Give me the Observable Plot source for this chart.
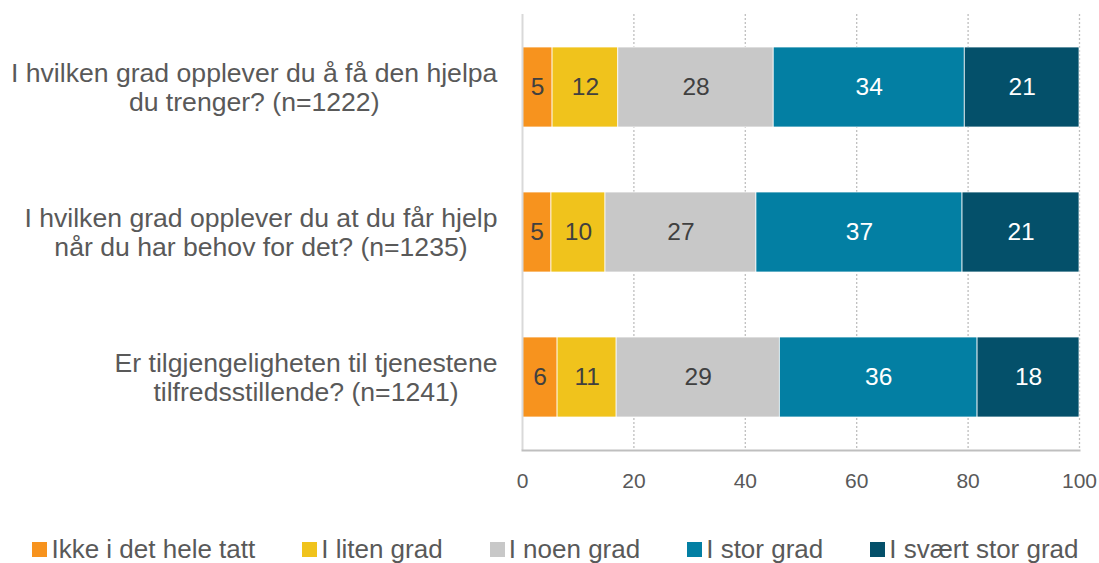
<!DOCTYPE html>
<html>
<head>
<meta charset="utf-8">
<script src="https://cdn.jsdelivr.net/npm/d3@7"></script>
<script src="https://cdn.jsdelivr.net/npm/@observablehq/plot@0.6"></script>
<style>
  html, body { margin: 0; padding: 0; background: #fff; }
  body { width: 1099px; height: 563px; overflow: hidden; font-family: "Liberation Sans", Arial, sans-serif; }
  #legend { display: flex; justify-content: center; align-items: center; gap: 47px; height: 28px; margin-top: 0px; padding-left: 12px;
    font-size: 26px; line-height: 28px; color: #595959; }
  #legend .item { display: flex; align-items: center; white-space: nowrap; }
  #legend .sw { width: 15px; height: 15px; margin-right: 4px; margin-top: 1px; }
</style>
</head>
<body>
<div id="chart"></div>
<div id="legend"></div>
<script>
const questions = [
  "I hvilken grad opplever du å få den hjelpa du trenger? (n=1222)",
  "I hvilken grad opplever du at du får hjelp når du har behov for det? (n=1235)",
  "Er tilgjengeligheten til tjenestene tilfredsstillende? (n=1241)"
];
const questionLabels = [
  "I hvilken grad opplever du å få den hjelpa\ndu trenger? (n=1222)",
  "I hvilken grad opplever du at du får hjelp\nnår du har behov for det? (n=1235)",
  "Er tilgjengeligheten til tjenestene\ntilfredsstillende? (n=1241)"
];
const categories = ["Ikke i det hele tatt", "I liten grad", "I noen grad", "I stor grad", "I svært stor grad"];
const colors = ["#F7931E", "#F0C31C", "#C8C8C8", "#037FA3", "#04506A"];
const darkCategories = ["I stor grad", "I svært stor grad"];

const ikkeIDetHeleTatt = [5.4, 5.2, 6.3];
const iLitenGrad       = [11.8, 9.7, 10.6];
const iNoenGrad        = [27.9, 27.1, 29.3];
const iStorGrad        = [34.3, 37.0, 35.5];
const iSvaertStorGrad  = [20.6, 21.0, 18.3];

const xTicks = [0, 20, 40, 60, 80, 100];

const series = [ikkeIDetHeleTatt, iLitenGrad, iNoenGrad, iStorGrad, iSvaertStorGrad];
const rows = [];
questions.forEach((q, qi) => {
  categories.forEach((c, ci) => {
    rows.push({question: q, category: c, value: series[ci][qi]});
  });
});
const fmt = v => String(Math.round(v));

const chart = Plot.plot({
  width: 1099,
  height: 535,
  marginTop: 14,
  marginBottom: 85,
  marginLeft: 522,
  marginRight: 20,
  style: {fontFamily: "'Liberation Sans', Arial, sans-serif", color: "#595959", background: "#fff", overflow: "visible"},
  x: {domain: [0, 100]},
  y: {domain: questions, paddingInner: 0.45, paddingOuter: 0.225},
  color: {domain: categories, range: colors},
  marks: [
    Plot.ruleX(xTicks.filter(t => t > 0), {stroke: "#BFBFBF", strokeDasharray: "2,2", strokeWidth: 1.3}),
    Plot.barX(rows, Plot.stackX({x: "value", y: "question", z: "category", fill: "category", stroke: "#fff", strokeWidth: 0.75})),
    Plot.ruleX([0], {stroke: "#D9D9D9", strokeWidth: 2}),
    Plot.frame({anchor: "bottom", stroke: "#BFBFBF", strokeWidth: 2}),
    Plot.text(rows, Plot.stackX({x: "value", y: "question", z: "category",
      text: d => darkCategories.includes(d.category) ? null : fmt(d.value), fill: "#404040", fontSize: 24.5})),
    Plot.text(rows, Plot.stackX({x: "value", y: "question", z: "category",
      text: d => darkCategories.includes(d.category) ? fmt(d.value) : null, fill: "#ffffff", fontSize: 24.5})),
    Plot.axisX({ticks: xTicks, tickSize: 0, tickPadding: 23, fontSize: 21, label: null, fill: "#595959"}),
    Plot.axisY({tickSize: 0, tickPadding: 25, fontSize: 26.6, lineHeight: 1.07, label: null, fill: "#595959",
      textAnchor: "end", tickFormat: q => questionLabels[questions.indexOf(q)]})
  ]
});
document.getElementById("chart").appendChild(chart);

// center the lines of each y label while keeping the block right-aligned
chart.querySelectorAll('[aria-label="y-axis tick label"] text').forEach(t => {
  const w = t.getBBox().width;
  t.setAttribute("text-anchor", "middle");
  const tr = t.getAttribute("transform") || "";
  t.setAttribute("transform", tr + ` translate(${-w / 2},0)`);
});

const legend = document.getElementById("legend");
categories.forEach((c, i) => {
  const item = document.createElement("div");
  item.className = "item";
  const sw = document.createElement("div");
  sw.className = "sw";
  sw.style.background = colors[i];
  const lab = document.createElement("span");
  lab.textContent = c;
  item.appendChild(sw);
  item.appendChild(lab);
  legend.appendChild(item);
});
</script>
</body>
</html>
